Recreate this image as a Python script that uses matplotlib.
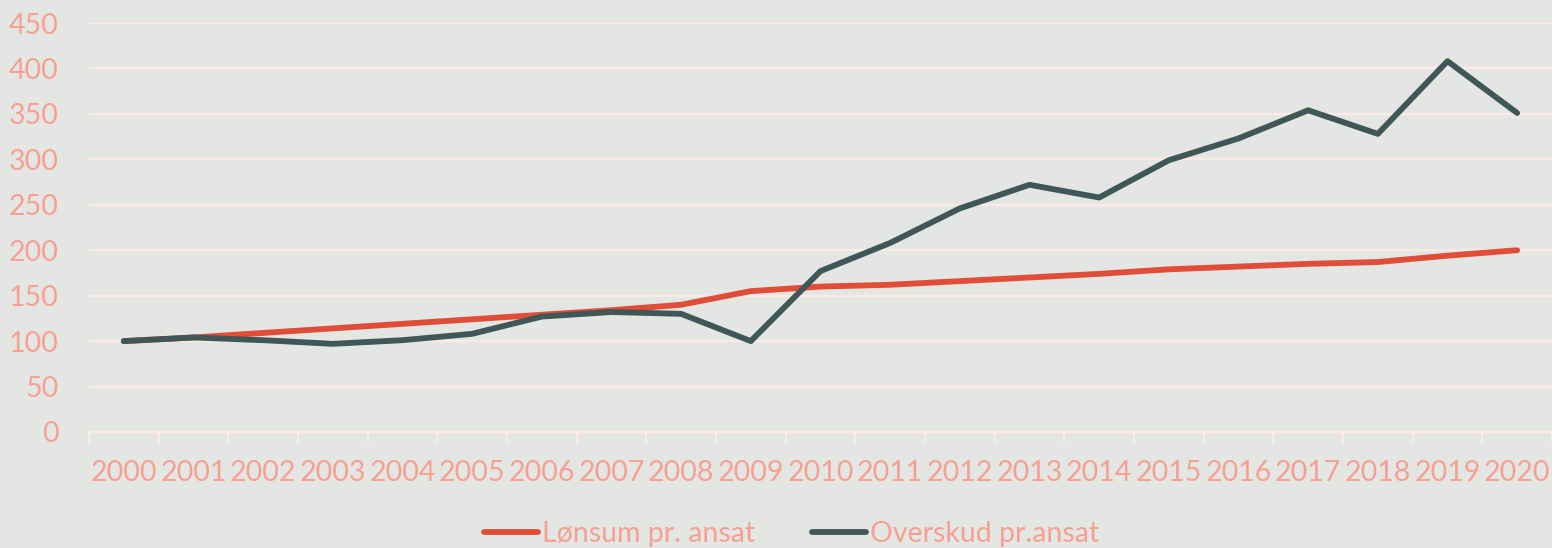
import numpy as np
import matplotlib
matplotlib.use("Agg")
import matplotlib.pyplot as plt
from matplotlib.ticker import FixedLocator

# Index 2000 = 100
years = [str(y) for y in range(2000, 2021)]
loensum = [100, 104, 109, 114, 119, 124, 129, 134, 140, 155, 160, 162,
           166, 170, 174, 179, 182, 185, 187, 194, 200]
overskud = [100, 104, 101, 97, 101, 108, 127, 132, 130, 100, 177, 208,
            246, 272, 258, 299, 323, 354, 328, 408, 351]

BG = '#E4E6E3'
TXT = '#F7A091'
GRID = '#FBEAE6'

plt.rcParams['font.family'] = ['Lato', 'DejaVu Sans']

fig = plt.figure(figsize=(15.52, 5.48), dpi=100, facecolor=BG)
ax = fig.add_axes([0.0573, 0.2117, 0.9427, 0.7463], facecolor=BG)

x = np.arange(len(years))
ax.plot(x, loensum, color='#E04E39', lw=4.2, solid_capstyle='round',
        label='Lønsum pr. ansat', zorder=3)
ax.plot(x, overskud, color='#3F5756', lw=4.2, solid_capstyle='round',
        label='Overskud pr.ansat', zorder=4)

ax.set_xlim(-0.5, len(years) - 0.5)
ax.set_ylim(0, 450)
ax.set_yticks(range(0, 451, 50))
ax.yaxis.grid(True, color=GRID, lw=1.6)
ax.set_axisbelow(True)

ax.set_xticks(x)
ax.set_xticklabels(years)
ax.xaxis.set_minor_locator(FixedLocator(np.arange(-0.5, len(years), 1)))
ax.tick_params(axis='x', which='major', length=0, pad=20, labelsize=20.5, labelcolor=TXT)
ax.tick_params(axis='x', which='minor', length=8, width=1.5, color=GRID)
ax.tick_params(axis='y', length=0, pad=22, labelsize=20.5, labelcolor=TXT)

for s in ['top', 'right', 'left']:
    ax.spines[s].set_visible(False)
ax.spines['bottom'].set_color(GRID)
ax.spines['bottom'].set_linewidth(1.6)

leg = fig.legend(loc='lower center', bbox_to_anchor=(0.51, -0.045), ncol=2,
                 frameon=False, fontsize=20.5, handlelength=1.9,
                 handletextpad=0.15, columnspacing=2.0)
for t in leg.get_texts():
    t.set_color(TXT)

fig.savefig('out.png', dpi=100, facecolor=BG)
